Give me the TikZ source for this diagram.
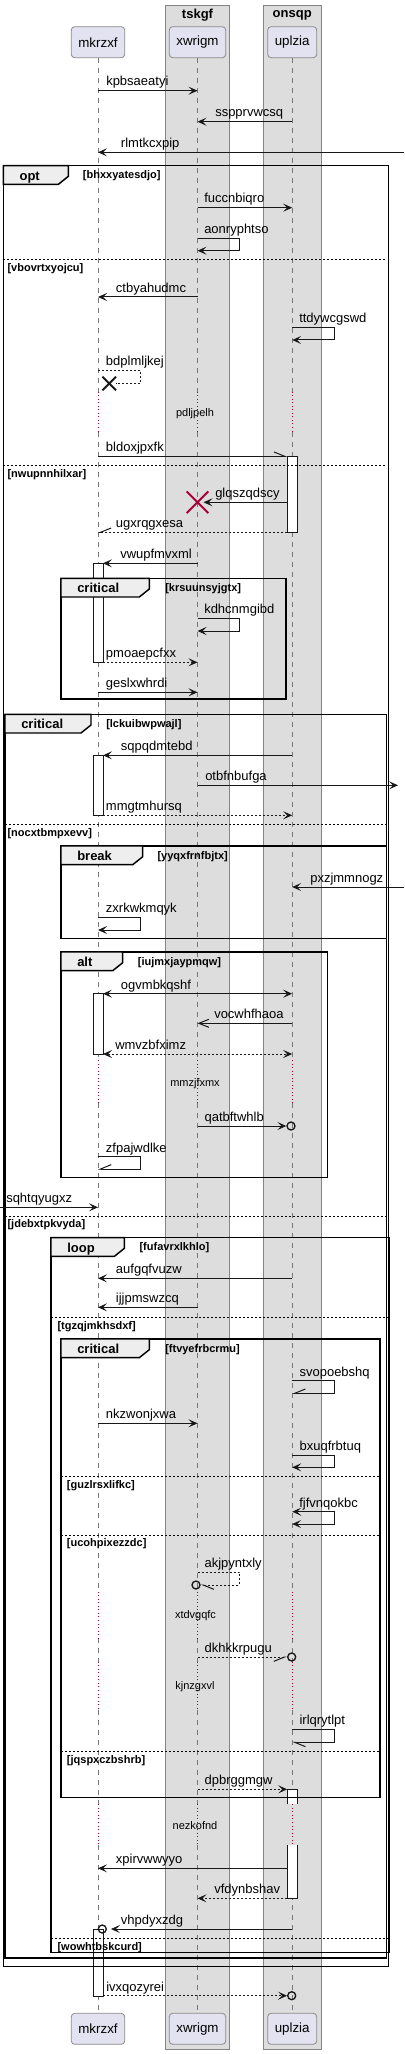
\documentclass[tikz,border=0pt]{standalone}
\usepackage{fontspec}
\setmainfont{Liberation Sans}
\usetikzlibrary{arrows.meta,shapes.misc}

\definecolor{partfill}{HTML}{E2E2F0}
\definecolor{partline}{HTML}{8A8A8A}
\definecolor{boxfill}{HTML}{DDDDDD}
\definecolor{boxline}{HTML}{848484}
\definecolor{tabfill}{HTML}{EEEEEE}
\definecolor{lifegray}{HTML}{777777}
\definecolor{delayred}{HTML}{A80036}
\definecolor{ink}{HTML}{181818}

\tikzset{
  >={Stealth[length=6.75pt,width=6pt,inset=3pt]},
  grpbox/.style={draw=boxline,fill=boxfill,line width=0.75pt},
  grptitle/.style={font=\bfseries\fontsize{9.75}{11}\selectfont,inner sep=0pt},
  part/.style={draw=partline,fill=partfill,rounded corners=2.5pt,line width=0.6pt,
    inner xsep=5.3pt,minimum height=23.25pt,font=\fontsize{10}{12}\selectfont},
  lifeline/.style={draw=lifegray,line width=0.5pt,dash pattern=on 3.75pt off 3.75pt},
  delayline/.style={draw=delayred,line width=0.75pt,dash pattern=on 0.75pt off 1.9pt},
  act/.style={draw=ink,fill=white,line width=0.6pt},
  grpframe/.style={draw=black,line width=1.1pt},
  tab/.style={draw=black,fill=tabfill,line width=1.1pt},
  tablabel/.style={font=\bfseries\fontsize{9.75}{11}\selectfont,anchor=base west,inner sep=0pt},
  guard/.style={font=\bfseries\fontsize{8.25}{10}\selectfont,anchor=base west,inner sep=0pt},
  elseline/.style={draw=black,line width=0.75pt,dash pattern=on 1.5pt off 1.5pt},
  msg/.style={draw=ink,line width=0.75pt,->},
  reply/.style={msg,dash pattern=on 1.5pt off 1.5pt},
  twoway/.style={<->},
  thinhead/.style={-{Straight Barb[length=7.5pt,width=6pt]}},
  leftbarb/.style={-{Straight Barb[harpoon,length=8pt,width=6.5pt]}},
  rightbarb/.style={-{Straight Barb[harpoon,swap,length=8pt,width=6.5pt]}},
  lbl/.style={font=\fontsize{9.75}{11}\selectfont,anchor=base west,inner sep=0pt},
  delaytxt/.style={font=\fontsize{8.25}{10}\selectfont,inner sep=0pt},
  ring/.style={circle,draw=ink,line width=1pt,minimum size=6pt,inner sep=0pt},
  killmark/.style={cross out,draw=ink,line width=1.5pt,minimum size=8.7pt,inner sep=0pt},
}

\begin{document}
\begin{tikzpicture}[x=0.75pt,y=-0.75pt]
\useasboundingbox (0,0) rectangle (404,2054);
% group boxes
\draw[grpbox] (165.7,6) rectangle (229.3,2049);
\draw[grpbox] (263.3,6) rectangle (321,2049);
\node[grptitle] (tskgf) at (197.5,15) {tskgf};
\node[grptitle] (onsqp) at (292.2,15) {onsqp};

% participants
\node[part] (mk) at (98,42.2) {mkrzxf};
\node[part] (xw) at (197.5,42.2) {xwrigm};
\node[part] (up) at (292.2,42.2) {uplzia};
\node[part] (mkB) at (98,2028.8) {mkrzxf};
\node[part] (xwB) at (197.5,2028.8) {xwrigm};
\node[part] (upB) at (292.2,2028.8) {uplzia};
\coordinate (mkL) at ([xshift=-3.75pt]mk.center);
\coordinate (mkR) at ([xshift=3.75pt]mk.center);
\coordinate (upL) at ([xshift=-3.75pt]up.center);
\coordinate (upR) at ([xshift=3.75pt]up.center);

% lifelines and delays
\foreach \p in {mk,xw,up} {
  \foreach \ya/\yb in {57.7/391.7,431.7/1060,1103.3/1591.7,1638/1661.7,1710/1804.3,1845/2013.3}
    \draw[lifeline] (\p |- 0,\ya) -- (\p |- 0,\yb);
  \foreach \ya/\yb in {391.7/431.7,1060/1103.3,1591.7/1638,1661.7/1710,1804.3/1845}
    \draw[delayline] (\p |- 0,\ya) -- (\p |- 0,\yb);
}
\node[delaytxt] (pdljpelh) at (195,413.3) {pdljpelh};
\node[delaytxt] (mmzjfxmx) at (195,1084) {mmzjfxmx};
\node[delaytxt] (xtdvgqfc) at (195.5,1615.7) {xtdvgqfc};
\node[delaytxt] (kjnzgxvl) at (195,1686.7) {kjnzgxvl};
\node[delaytxt] (nezkofnd) at (195,1826) {nezkofnd};

% activations
\draw[act] (upL |- 0,456.3) rectangle (upR |- 0,532.3);
\draw[act] (mkL |- 0,563.3) rectangle (mkR |- 0,662.3);
\draw[act] (mkL |- 0,755.3) rectangle (mkR |- 0,815.3);
\draw[act] (mkL |- 0,993.7) rectangle (mkR |- 0,1054);
\draw[act] (upL |- 0,1804.3) |- (upR |- 0,1789.3) -- (upR |- 0,1804.3);
\draw[act] (upL |- 0,1845) |- (upR |- 0,1898.3) -- (upR |- 0,1845);
\draw[act] (mkL |- 0,1929) rectangle (mkR |- 0,1996);

% frames
\foreach \lx/\ty/\rx/\byy/\tx/\kw/\gd/\gx in {
  3.3/165.7/388.3/1966.7/68.3/opt/bhxxyatesdjo/82.7,
  5/714.3/386.3/1958/91/critical/lckuibwpwajl/106,
  61/578.3/286/699/149.3/critical/krsuunsyjgtx/165,
  61/846/386.7/938.3/142.7/break/yyqxfrnfbjtx/157.3,
  61/952/327.7/1177.3/122.7/alt/iujmxjaypmqw/137.7,
  51/1237.7/389.3/1952.3/124.3/loop/fufavrxlkhlo/139.3,
  61/1339/380/1797.7/149.3/critical/ftvyefrbcrmu/165} {
  \draw[grpframe] (\lx,\ty) rectangle (\rx,\byy);
  \draw[tab] (\lx,\ty) -- (\tx,\ty) -- (\tx,\ty+10.7) -- (\tx-10,\ty+18.7) -- (\lx,\ty+18.7) -- cycle;
  \node[tablabel] (\gd-tab) at (\lx+16,\ty+14.5) {\kw};
  \node[guard] (\gd) at (\gx,\ty+13) {[\gd]};
}
\foreach \sl/\sr/\sy/\sx/\sg in {
  3.3/386.7/260/7.3/vbovrtxyojcu, 3.3/386.7/465.3/7.3/nwupnnhilxar,
  5/386.3/824.3/7.3/nocxtbmpxevv, 5/386.3/1216/7.3/jdebxtpkvyda,
  51/389.3/1317.3/57.3/tgzqjmkhsdxf, 61/380/1476.3/66.7/guzlrsxlifkc,
  61/380/1535/66.7/ucohpixezzdc, 61/380/1751.7/66.7/jqspxczbshrb,
  51/389.3/1938.3/57.3/wowhtbskcurd} {
  \draw[elseline] (\sl,\sy) -- (\sr,\sy);
  \node[guard] (\sg) at (\sx,\sy+11.8) {[\sg]};
}

% ends of messages
\coordinate (rimA) at (404,152.3);
\coordinate (rimB) at (398,785.3);
\coordinate (rimC) at (404,887);
\coordinate (rimD) at (0,1207.3);
\node[killmark] (killA) at (109.2,383.5) {};
\node[killmark,draw=delayred,minimum size=14.7pt] (killB) at (xw |- 0,502.3) {};
\node[ring] (ringA) at (291,1126) {};
\node[ring] (ringB) at (196,1585) {};
\node[ring] (ringC) at (291.7,1657) {};
\node[ring] (ringD) at (102.3,1929) {};
\node[ring] (ringE) at (291.7,1995.7) {};

% messages
\draw[msg] (mk |- 0,90.7) -- (xw |- 0,90.7);
\node[lbl] (kpbsaeatyi) at (106,86) {kpbsaeatyi};
\draw[msg] (up |- 0,121.7) -- (xw |- 0,121.7);
\node[lbl] (sspprvwcsq) at (215,117) {sspprvwcsq};
\draw[msg] (rimA) -- (mk |- 0,152.3);
\node[lbl] (rlmtkcxpip) at (120.7,147.6) {rlmtkcxpip};
\draw[msg] (xw |- 0,207.7) -- (up |- 0,207.7);
\node[lbl] (fuccnbiqro) at (204,203) {fuccnbiqro};
\draw[msg] (xw |- 0,238.7) -- ++(42,0) |- (xw |- 0,250.7);
\node[lbl] (aonryphtso) at (204,234) {aonryphtso};
\draw[msg] (xw |- 0,297) -- (mk |- 0,297);
\node[lbl] (ctbyahudmc) at (115.7,292.3) {ctbyahudmc};
\draw[msg] (up |- 0,327.3) -- ++(42,0) |- (up |- 0,340);
\node[lbl] (ttdywcgswd) at (299,322.6) {ttdywcgswd};
\draw[reply,-] (mk |- 0,370.7) -- ++(42.7,0) |- (killA.east);
\node[lbl] (bdplmljkej) at (105.7,366) {bdplmljkej};
\draw[msg,leftbarb] (mk |- 0,456.3) -- (upL |- 0,456.3);
\node[lbl] (bldoxjpxfk) at (105.7,451.6) {bldoxjpxfk};
\draw[msg] (upL |- 0,502.3) -- ([xshift=4.5pt]killB.center);
\node[lbl] (glqszqdscy) at (215,497.6) {glqszqdscy};
\draw[reply,rightbarb] (upL |- 0,532.3) -- (mk |- 0,532.3);
\node[lbl] (ugxrqgxesa) at (115.7,527.6) {ugxrqgxesa};
\draw[msg] (xw |- 0,563.3) -- (mkR |- 0,563.3);
\node[lbl] (vwupfmvxml) at (120,558.6) {vwupfmvxml};
\draw[msg] (xw |- 0,618.3) -- ++(42,0) |- (xw |- 0,631);
\node[lbl] (kdhcnmgibd) at (204,613.6) {kdhcnmgibd};
\draw[reply] (mkR |- 0,662.3) -- (xw |- 0,662.3);
\node[lbl] (pmoaepcfxx) at (105.7,657.6) {pmoaepcfxx};
\draw[msg] (mk |- 0,692.3) -- (xw |- 0,692.3);
\node[lbl] (geslxwhrdi) at (105.7,687.6) {geslxwhrdi};
\draw[msg] (up |- 0,755.3) -- (mkR |- 0,755.3);
\node[lbl] (sqpqdmtebd) at (120.7,750.6) {sqpqdmtebd};
\draw[msg] (xw |- 0,785.3) -- (rimB);
\node[lbl] (otbfnbufga) at (205,780.6) {otbfnbufga};
\draw[reply] (mkR |- 0,815.3) -- (up |- 0,815.3);
\node[lbl] (mmgtmhursq) at (105.7,810.6) {mmgtmhursq};
\draw[msg] (rimC) -- (up |- 0,887);
\node[lbl] (pxzjmmnogz) at (310,882.3) {pxzjmmnogz};
\draw[msg] (mk |- 0,917.3) -- ++(42.7,0) |- (mk |- 0,930);
\node[lbl] (zxrkwkmqyk) at (105.7,912.6) {zxrkwkmqyk};
\draw[msg,twoway] (mkR |- 0,993.7) -- (up |- 0,993.7);
\node[lbl] (ogvmbkqshf) at (120.7,989) {ogvmbkqshf};
\draw[msg,thinhead] (up |- 0,1023.3) -- (xw |- 0,1023.3);
\node[lbl] (vocwhfhaoa) at (214,1018.6) {vocwhfhaoa};
\draw[reply,twoway] (mkR |- 0,1054) -- (up |- 0,1054);
\node[lbl] (wmvzbfximz) at (115,1049.3) {wmvzbfximz};
\draw[msg] (xw |- 0,1126) -- (ringA.west);
\node[lbl] (qatbftwhlb) at (204.3,1121.3) {qatbftwhlb};
\draw[msg,rightbarb] (mk |- 0,1156.7) -- ++(42.7,0) |- (mk |- 0,1169);
\node[lbl] (zfpajwdlke) at (105.7,1152) {zfpajwdlke};
\draw[msg] (rimD) -- (mk |- 0,1207.3);
\node[lbl] (sqhtqyugxz) at (6,1202.6) {sqhtqyugxz};
\draw[msg] (up |- 0,1278.3) -- (mk |- 0,1278.3);
\node[lbl] (aufgqfvuzw) at (115.7,1273.6) {aufgqfvuzw};
\draw[msg] (xw |- 0,1307.3) -- (mk |- 0,1307.3);
\node[lbl] (ijjpmswzcq) at (115.7,1302.6) {ijjpmswzcq};
\draw[msg,rightbarb] (up |- 0,1380.7) -- ++(42,0) |- (up |- 0,1393.3);
\node[lbl] (svopoebshq) at (299.3,1376) {svopoebshq};
\draw[msg] (mk |- 0,1423.3) -- (xw |- 0,1423.3);
\node[lbl] (nkzwonjxwa) at (105.7,1418.6) {nkzwonjxwa};
\draw[msg] (up |- 0,1455) -- ++(42,0) |- (up |- 0,1467.3);
\node[lbl] (bxuqfrbtuq) at (299.3,1450.3) {bxuqfrbtuq};
\draw[msg,twoway] (up |- 0,1511.7) -- ++(42,0) |- (up |- 0,1524);
\node[lbl] (fjfvnqokbc) at (299,1507) {fjfvnqokbc};
\draw[reply,leftbarb] (xw |- 0,1572.3) -- ++(42,0) |- (ringB.east);
\node[lbl] (akjpyntxly) at (204.3,1567.6) {akjpyntxly};
\draw[reply,rightbarb] (xw |- 0,1657) -- (ringC.west);
\node[lbl] (dkhkkrpugu) at (204.3,1652.3) {dkhkkrpugu};
\draw[msg,leftbarb] (up |- 0,1729.3) -- ++(42,0) |- (up |- 0,1742.3);
\node[lbl] (irlqrytlpt) at (299.3,1724.6) {irlqrytlpt};
\draw[reply] (xw |- 0,1789.3) -- (upL |- 0,1789.3);
\node[lbl] (dpbrggmgw) at (204.3,1784.6) {dpbrggmgw};
\draw[msg] (upL |- 0,1868.3) -- (mk |- 0,1868.3);
\node[lbl] (xpirvwwyyo) at (115.7,1863.6) {xpirvwwyyo};
\draw[reply] (upL |- 0,1898.3) -- (xw |- 0,1898.3);
\node[lbl] (vfdynbshav) at (214,1893.6) {vfdynbshav};
\draw[msg] (up |- 0,1929) -- ([xshift=3pt]ringD.east);
\node[lbl] (vhpdyxzdg) at (120.7,1924.3) {vhpdyxzdg};
\draw[reply] (mkR |- 0,1995.7) -- (ringE.west);
\node[lbl] (ivxqozyrei) at (106,1991) {ivxqozyrei};
\end{tikzpicture}
\end{document}
